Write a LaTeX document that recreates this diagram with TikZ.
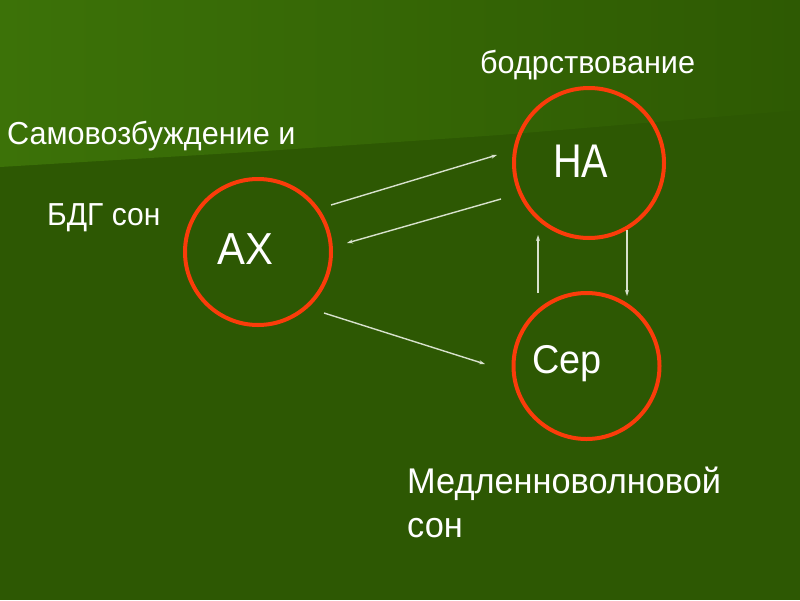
\documentclass[tikz,border=0pt]{standalone}
\usepackage{fontspec}
\setmainfont{Liberation Sans}
\usetikzlibrary{arrows.meta}
\definecolor{bgtopL}{RGB}{60,114,8}
\definecolor{bgtopR}{RGB}{46,90,3}
\definecolor{bgbot}{RGB}{45,88,3}
\definecolor{ringred}{RGB}{250,60,10}
\definecolor{arrowgrey}{RGB}{215,225,205}
\tikzset{
  ring/.style={circle, draw=ringred, line width=4pt, inner sep=0pt, minimum size=#1},
  lbl/.style={text=white, inner sep=0pt, anchor=base west},
  conn/.style={draw=arrowgrey, line width=1.4pt, -{Stealth[length=6pt,width=4pt]}}
}
\newcommand{\tallfont}[1]{\fontsize{#1}{#1}\selectfont}
\begin{document}
\begin{tikzpicture}[x=1pt,y=-1pt]
\useasboundingbox (0,0) rectangle (800,600);
% background
\fill[bgbot] (0,0) rectangle (800,600);
\shade[left color=bgtopL, right color=bgtopR] (0,0) -- (800,0) -- (800,110) -- (500,135) -- (250,152) -- (0,167) -- cycle;
% circles
\node[ring=146pt] (ax) at (258,252) {};
\node[ring=150pt] (na) at (589,163) {};
\node[ring=146pt] (ser) at (586.5,366) {};
% labels in circles
\node[lbl, font=\tallfont{44}] (axt) at (217,264) {\scalebox{0.95}[1.02]{АХ}};
\node[lbl, font=\tallfont{45}] (nat) at (553,177) {\scalebox{0.88}[1.05]{НА}};
\node[lbl, font=\tallfont{39}] (sert) at (532,373) {\scalebox{0.97}[1.03]{Сер}};
% outer labels
\node[lbl, font=\tallfont{30}] (wake) at (480,73) {\scalebox{1.02}[1.06]{бодрствование}};
\node[lbl, font=\tallfont{30}] (self) at (7,144) {\scalebox{1.02}[1.06]{Самовозбуждение и}};
\node[lbl, font=\tallfont{30}] (rem) at (47,225) {\scalebox{1.0}[1.06]{БДГ сон}};
\node[lbl, font=\tallfont{34}] (sws1) at (407,493) {\scalebox{1.01}[1.05]{Медленноволновой}};
\node[lbl, font=\tallfont{34}] (sws2) at (407,537) {\scalebox{1.01}[1.05]{сон}};
% connector end points
\coordinate (a1s) at (331,205); \coordinate (a1e) at (497,155);
\coordinate (a2s) at (501,199); \coordinate (a2e) at (347,243);
\coordinate (a3s) at (324,313); \coordinate (a3e) at (485,364);
\coordinate (a4s) at (538,293); \coordinate (a4e) at (538,235);
\coordinate (a5s) at (627,230); \coordinate (a5e) at (627,296);
\draw[conn] (a1s) -- (a1e);
\draw[conn] (a2s) -- (a2e);
\draw[conn] (a3s) -- (a3e);
\draw[conn] (a4s) -- (a4e);
\draw[conn] (a5s) -- (a5e);
\end{tikzpicture}
\end{document}
